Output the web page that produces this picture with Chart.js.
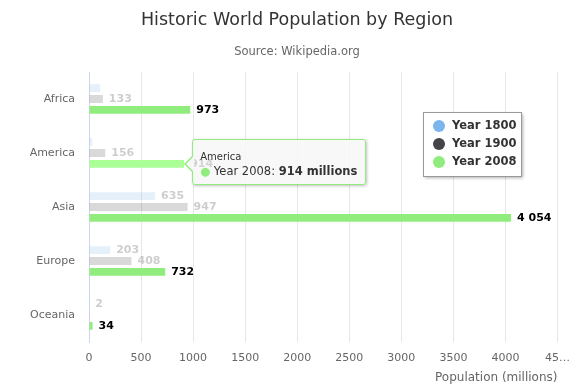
<!DOCTYPE html>
<html>
<head>
<meta charset="utf-8">
<script src="https://cdn.jsdelivr.net/npm/chart.js@4/dist/chart.umd.min.js"></script>
<style>
    body { margin: 0; background: #fff; font-family: "DejaVu Sans", sans-serif; }
    #wrap { position: relative; width: 580px; height: 392px; }
    #tip {
        position: absolute; pointer-events: none; opacity: 0;
        background: rgba(247, 247, 247, 0.85);
        border: 1px solid #90ed7d; border-radius: 3px;
        box-shadow: 1px 1px 3px rgba(0, 0, 0, 0.25);
        padding: 10px 8px 5px 7px; color: #333; white-space: nowrap;
    }
    #tip:before, #tip:after {
        content: ''; position: absolute; top: 16px; width: 0; height: 0;
        border-top: 8px solid transparent; border-bottom: 8px solid transparent;
    }
    #tip:before { left: -9px; border-right: 8px solid #90ed7d; }
    #tip:after { left: -7px; border-right: 8px solid rgba(247, 247, 247, 1); }
    #tip .t { font-size: 10px; line-height: 13px; }
    #tip .b { font-size: 11.5px; line-height: 16px; }
</style>
</head>
<body>
<div id="wrap">
    <canvas id="myChart"></canvas>
    <div id="tip"></div>
</div>
<script>
const regions = ['Africa', 'America', 'Asia', 'Europe', 'Oceania'];
const seriesNames = ['Year 1800', 'Year 1900', 'Year 2008'];
const year1800 = [107, 31, 635, 203, 2];
const year1900 = [133, 156, 947, 408, 6];
const year2008 = [973, 914, 4054, 732, 34];
const xTicks = [0, 500, 1000, 1500, 2000, 2500, 3000, 3500, 4000, 4500];
// labels hidden because they overlap a neighbour: [series, region]
const hiddenLabels = [[0, 0], [0, 1], [1, 4]];

const baseColors = ['#7cb5ec', '#434348', '#90ed7d'];
const fadedColors = ['rgba(124,181,236,0.2)', 'rgba(67,67,72,0.2)', '#90ed7d'];
const activeSeries = 2;

function fmt(v) {
    return String(v).replace(/\B(?=(\d{3})+(?!\d))/g, ' ');
}

function externalTooltip(context) {
    const tooltip = context.tooltip;
    const el = document.getElementById('tip');
    if (tooltip.opacity === 0 || !tooltip.dataPoints) {
        el.style.opacity = 0;
        return;
    }
    const dp = tooltip.dataPoints[0];
    const color = baseColors[dp.datasetIndex];
    el.innerHTML = '<div class="t">' + dp.label + '</div>' +
        '<div class="b"><span style="color:' + color + '">\u25CF</span> ' +
        dp.dataset.label + ': <b>' + fmt(dp.raw) + ' millions</b></div>';
    el.style.left = (tooltip.caretX + 8) + 'px';
    el.style.top = (tooltip.caretY - 25) + 'px';
    el.style.opacity = 1;
}

const barLabels = {
    id: 'barLabels',
    afterDatasetsDraw(chart) {
        const ctx = chart.ctx;
        ctx.save();
        ctx.font = 'bold 11px "DejaVu Sans"';
        ctx.textBaseline = 'middle';
        ctx.lineJoin = 'round';
        chart.data.datasets.forEach((ds, di) => {
            const meta = chart.getDatasetMeta(di);
            meta.data.forEach((bar, i) => {
                if (hiddenLabels.some(h => h[0] === di && h[1] === i)) return;
                const text = fmt(ds.data[i]);
                const on = di === activeSeries;
                ctx.lineWidth = 2;
                ctx.strokeStyle = on ? '#fff' : 'rgba(255,255,255,0.2)';
                ctx.fillStyle = on ? '#000' : 'rgba(0,0,0,0.2)';
                ctx.strokeText(text, bar.x + 6, bar.y);
                ctx.fillText(text, bar.x + 6, bar.y);
            });
        });
        ctx.restore();
    }
};

const boxLegend = {
    id: 'boxLegend',
    afterDraw(chart) {
        const ctx = chart.ctx;
        const x = 423, y = 112, w = 98, h = 64;
        ctx.save();
        ctx.shadowColor = 'rgba(0,0,0,0.3)';
        ctx.shadowOffsetX = 2;
        ctx.shadowOffsetY = 2;
        ctx.shadowBlur = 3;
        ctx.fillStyle = '#fff';
        ctx.fillRect(x, y, w, h);
        ctx.shadowColor = 'transparent';
        ctx.strokeStyle = '#999';
        ctx.lineWidth = 1;
        ctx.strokeRect(x + 0.5, y + 0.5, w, h);
        ctx.font = 'bold 11.5px "DejaVu Sans"';
        ctx.textBaseline = 'middle';
        seriesNames.forEach((name, i) => {
            const cy = y + 14 + i * 18;
            ctx.fillStyle = baseColors[i];
            ctx.beginPath();
            ctx.arc(x + 16, cy, 6, 0, Math.PI * 2);
            ctx.fill();
            ctx.fillStyle = '#333';
            ctx.fillText(name, x + 29, cy);
        });
        ctx.restore();
    }
};

const ctx = document.getElementById('myChart').getContext('2d');
const myChart = new Chart(ctx, {
    type: 'bar',
    data: {
        labels: regions,
        datasets: [year1800, year1900, year2008].map((values, i) => ({
            label: seriesNames[i],
            data: values,
            backgroundColor: fadedColors[i],
            hoverBackgroundColor: i === activeSeries ? '#aaff97' : fadedColors[i],
            borderWidth: 0,
            categoryPercentage: 0.6,
            barPercentage: 0.72
        }))
    },
    options: {
        indexAxis: 'y',
        responsive: true,
        maintainAspectRatio: false,
        animation: false,
        events: [],
        layout: { padding: { left: 30, right: 16, top: 0, bottom: 0 } },
        scales: {
            x: {
                min: 0,
                max: 4500,
                afterBuildTicks: axis => { axis.ticks = xTicks.map(v => ({ value: v })); },
                afterFit: scale => { scale.height = 50; },
                grid: { color: '#e6e6e6', drawTicks: false },
                border: { display: false },
                ticks: {
                    color: '#666',
                    font: { family: 'DejaVu Sans', size: 11 },
                    padding: 10,
                    maxRotation: 0,
                    callback: v => v === 4500 ? '45\u2026' : v
                },
                title: {
                    display: true,
                    text: 'Population (millions)',
                    align: 'end',
                    color: '#666',
                    font: { family: 'DejaVu Sans', size: 12 },
                    padding: { top: 0, bottom: 7 }
                }
            },
            y: {
                grid: { display: false, drawTicks: false },
                border: { color: '#ccd6eb' },
                ticks: {
                    color: '#666',
                    font: { family: 'DejaVu Sans', size: 11 },
                    padding: 14
                },
                afterFit: scale => { scale.width = 59; }
            }
        },
        plugins: {
            legend: { display: false },
            title: {
                display: true,
                text: 'Historic World Population by Region',
                color: '#333',
                font: { family: 'DejaVu Sans', size: 17.5, weight: 'normal' },
                padding: { top: 9.5, bottom: 10 }
            },
            subtitle: {
                display: true,
                text: 'Source: Wikipedia.org',
                color: '#666',
                font: { family: 'DejaVu Sans', size: 11.5 },
                padding: { top: 4.2, bottom: 13.5 }
            },
            tooltip: { enabled: false, external: externalTooltip }
        }
    },
    plugins: [barLabels, boxLegend]
});

const active = [{ datasetIndex: activeSeries, index: 1 }];
myChart.setActiveElements(active);
myChart.tooltip.setActiveElements(active, { x: 186, y: 165 });
myChart.update();
</script>
</body>
</html>
